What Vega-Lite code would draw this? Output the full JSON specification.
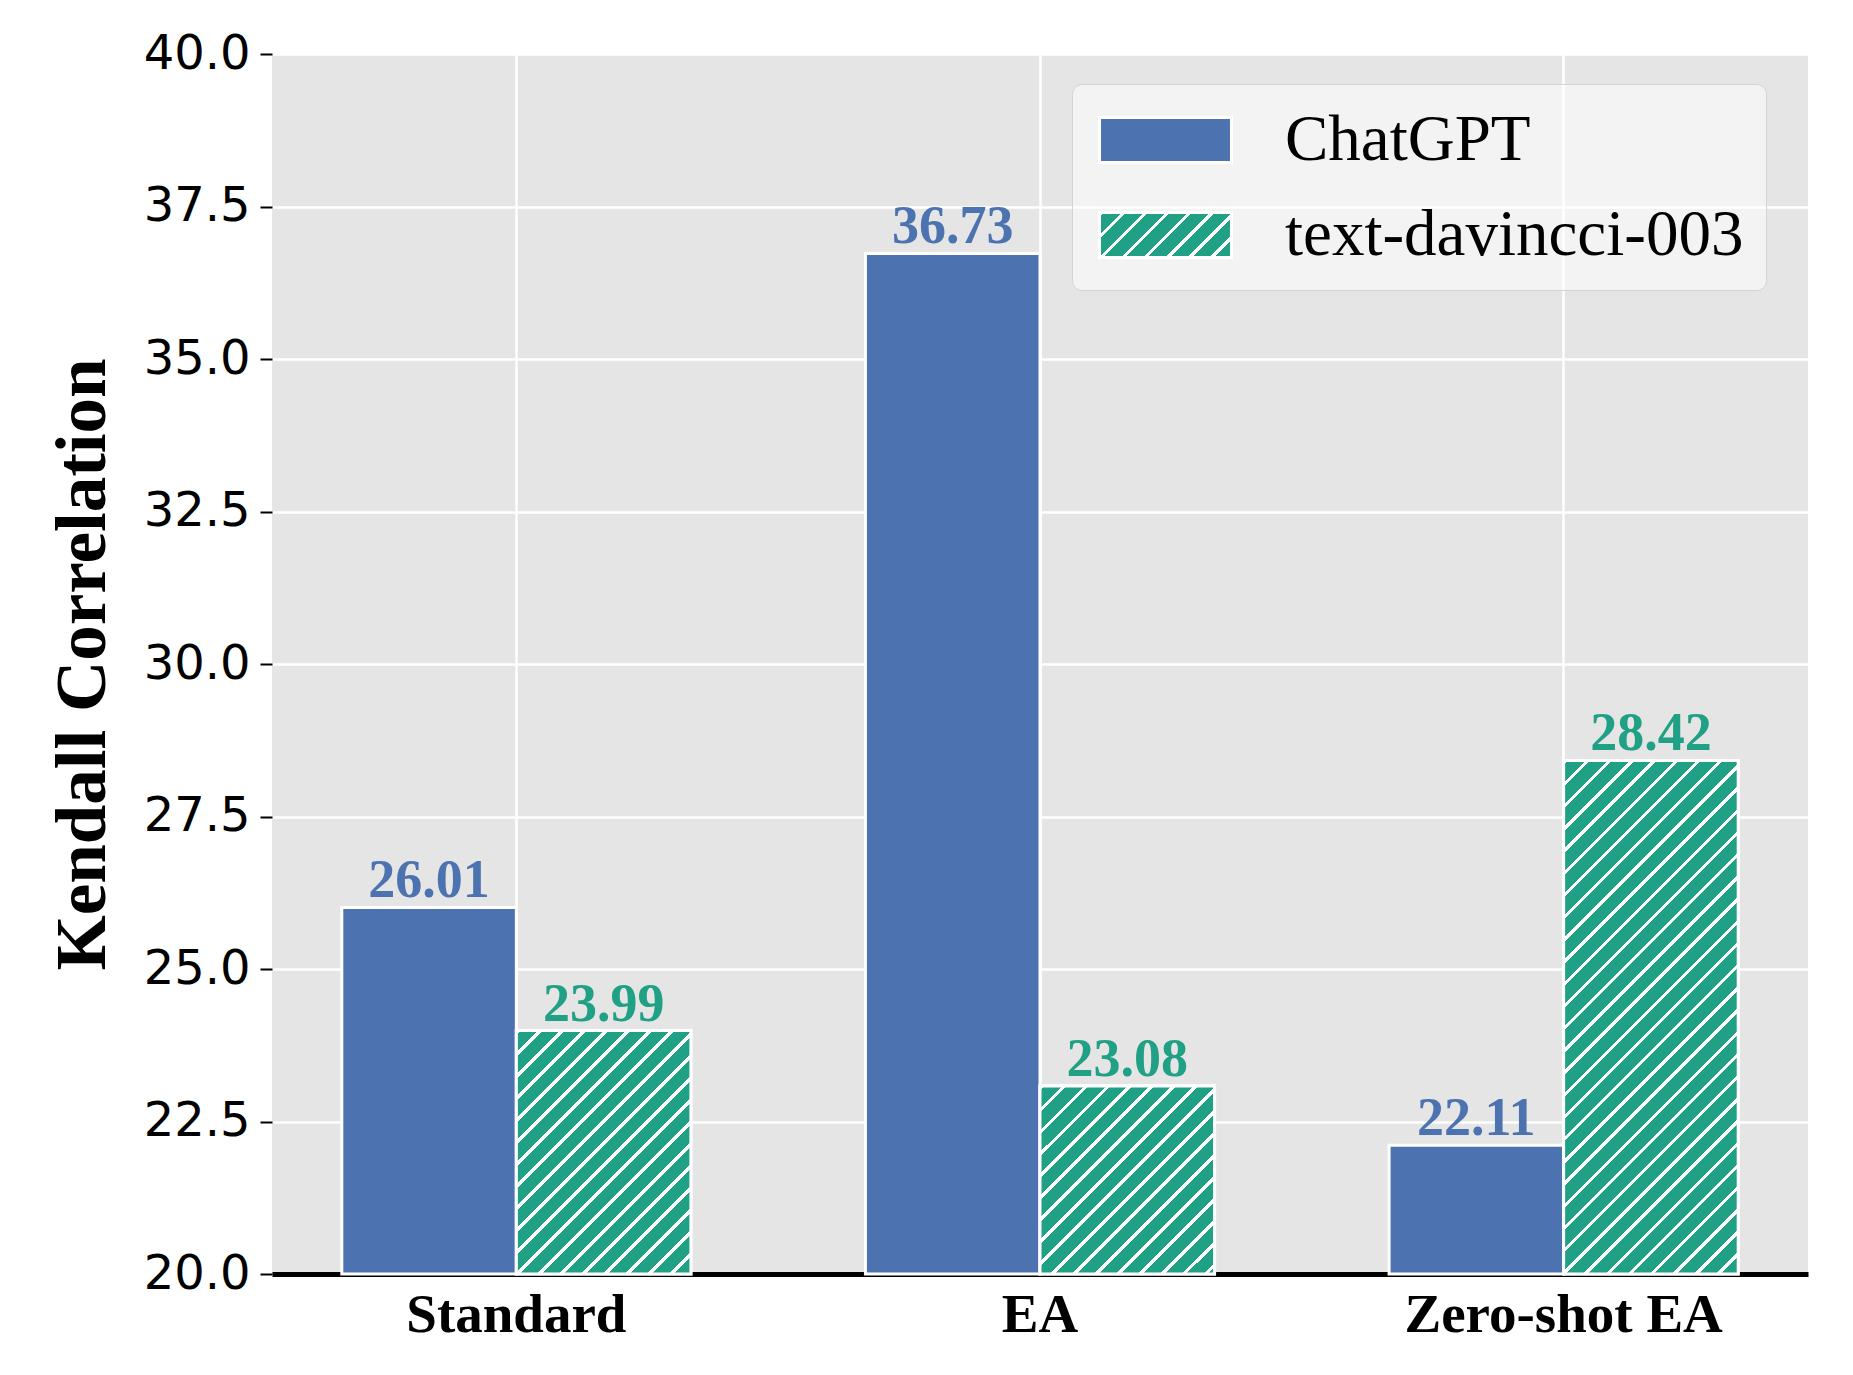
{
  "$schema": "https://vega.github.io/schema/vega-lite/v6.json",
  "width": 1536,
  "height": 1220,
  "autosize": {"type": "none"},
  "padding": {"left": 272, "top": 54, "right": 45, "bottom": 101},
  "background": "white",
  "config": {
    "view": {"fill": "#e5e5e5", "stroke": null},
    "axis": {"gridColor": "white", "gridWidth": 2.5, "gridOpacity": 1}
  },
  "data": {
    "values": [
      {"method": "Standard", "model": "ChatGPT", "value": 26.01},
      {"method": "Standard", "model": "text-davincci-003", "value": 23.99},
      {"method": "EA", "model": "ChatGPT", "value": 36.73},
      {"method": "EA", "model": "text-davincci-003", "value": 23.08},
      {"method": "Zero-shot EA", "model": "ChatGPT", "value": 22.11},
      {"method": "Zero-shot EA", "model": "text-davincci-003", "value": 28.42}
    ]
  },
  "encoding": {
    "x": {
      "field": "method", "type": "nominal",
      "sort": ["Standard", "EA", "Zero-shot EA"],
      "scale": {"paddingInner": 0.3333, "paddingOuter": 0.1333},
      "axis": {
        "title": null, "labelAngle": 0, "grid": true, "bandPosition": 0.5,
        "ticks": false, "tickSize": 0,
        "domain": true, "domainColor": "black", "domainWidth": 5,
        "labelFont": "Liberation Serif", "labelFontWeight": "bold", "labelFontSize": 55,
        "labelColor": "black", "labelBaseline": "alphabetic", "labelPadding": 57, "labelLimit": 1000
      }
    },
    "xOffset": {
      "field": "model", "type": "nominal",
      "scale": {"domain": ["ChatGPT", "text-davincci-003"], "paddingInner": 0, "paddingOuter": 0}
    },
    "y": {
      "field": "value", "type": "quantitative",
      "scale": {"domain": [20, 40], "zero": false, "nice": false},
      "axis": {
        "values": [20, 22.5, 25, 27.5, 30, 32.5, 35, 37.5, 40],
        "format": ".1f",
        "grid": true,
        "domain": false,
        "ticks": true, "tickSize": 12, "tickWidth": 2, "tickColor": "black",
        "labelFont": "DejaVu Sans", "labelFontSize": 48, "labelColor": "black", "labelPadding": 10,
        "title": "Kendall Correlation",
        "titleFont": "Liberation Serif", "titleFontWeight": "bold", "titleFontSize": 71, "titleColor": "black",
        "titleAngle": -90, "titleBaseline": "alphabetic", "titleAlign": "center",
        "titleX": -168, "titleY": 610
      }
    }
  },
  "layer": [
    {
      "mark": {"type": "bar", "stroke": "white", "strokeWidth": 3},
      "encoding": {
        "y2": {"datum": 20},
        "fill": {
          "field": "model", "type": "nominal",
          "scale": {"domain": ["ChatGPT", "text-davincci-003"], "range": ["#4c72b0", {"expr": "{gradient: 'linear', x1: 0, y1: 0, x2: 1.2013, y2: 0.4095, stops: [{offset: 0, color: 'white'}, {offset: 0.025, color: 'white'}, {offset: 0.025, color: '#20a084'}, {offset: 0.125, color: '#20a084'}, {offset: 0.125, color: 'white'}, {offset: 0.15, color: 'white'}, {offset: 0.15, color: '#20a084'}, {offset: 0.25, color: '#20a084'}, {offset: 0.25, color: 'white'}, {offset: 0.275, color: 'white'}, {offset: 0.275, color: '#20a084'}, {offset: 0.375, color: '#20a084'}, {offset: 0.375, color: 'white'}, {offset: 0.4, color: 'white'}, {offset: 0.4, color: '#20a084'}, {offset: 0.5, color: '#20a084'}, {offset: 0.5, color: 'white'}, {offset: 0.525, color: 'white'}, {offset: 0.525, color: '#20a084'}, {offset: 0.625, color: '#20a084'}, {offset: 0.625, color: 'white'}, {offset: 0.65, color: 'white'}, {offset: 0.65, color: '#20a084'}, {offset: 0.75, color: '#20a084'}, {offset: 0.75, color: 'white'}, {offset: 0.775, color: 'white'}, {offset: 0.775, color: '#20a084'}, {offset: 0.875, color: '#20a084'}, {offset: 0.875, color: 'white'}, {offset: 0.9, color: 'white'}, {offset: 0.9, color: '#20a084'}, {offset: 1, color: '#20a084'}]}"}]},
          "legend": {
            "orient": "none", "legendX": 800, "legendY": 30, "title": null,
            "symbolType": "M-2.03,-0.692H2.03V0.692H-2.03Z", "symbolSize": 4225,
            "symbolOffset": 37.5,
            "labelFont": "Liberation Serif", "labelFontSize": 65, "labelColor": "black",
            "labelOffset": 85.5, "labelLimit": 1000, "rowPadding": 28, "padding": 22,
            "fillColor": "rgba(255,255,255,0.55)", "strokeColor": "#d4d4d4", "cornerRadius": 10,
            "symbolStrokeColor": "white", "symbolStrokeWidth": 3, "symbolOpacity": 1,
            "encode": {"legend": {"strokeWidth": {"value": 2}}}
          }
        }
      }
    },
    {
      "transform": [{"filter": "datum.model === 'text-davincci-003' && datum.method === 'Standard'"}],
      "mark": {"type": "bar", "stroke": "white", "strokeWidth": 3,
        "fill": {"gradient": "linear", "x1": 0, "y1": 0, "x2": 0.813, "y2": 1.134,
          "stops": [
            {"offset": 0, "color": "white"}, {"offset": 0.0105, "color": "white"}, {"offset": 0.0105, "color": "#20a084"}, {"offset": 0.0526, "color": "#20a084"},
            {"offset": 0.0526, "color": "white"}, {"offset": 0.0632, "color": "white"}, {"offset": 0.0632, "color": "#20a084"}, {"offset": 0.1053, "color": "#20a084"},
            {"offset": 0.1053, "color": "white"}, {"offset": 0.1158, "color": "white"}, {"offset": 0.1158, "color": "#20a084"}, {"offset": 0.1579, "color": "#20a084"},
            {"offset": 0.1579, "color": "white"}, {"offset": 0.1684, "color": "white"}, {"offset": 0.1684, "color": "#20a084"}, {"offset": 0.2105, "color": "#20a084"},
            {"offset": 0.2105, "color": "white"}, {"offset": 0.2211, "color": "white"}, {"offset": 0.2211, "color": "#20a084"}, {"offset": 0.2632, "color": "#20a084"},
            {"offset": 0.2632, "color": "white"}, {"offset": 0.2737, "color": "white"}, {"offset": 0.2737, "color": "#20a084"}, {"offset": 0.3158, "color": "#20a084"},
            {"offset": 0.3158, "color": "white"}, {"offset": 0.3263, "color": "white"}, {"offset": 0.3263, "color": "#20a084"}, {"offset": 0.3684, "color": "#20a084"},
            {"offset": 0.3684, "color": "white"}, {"offset": 0.3789, "color": "white"}, {"offset": 0.3789, "color": "#20a084"}, {"offset": 0.4211, "color": "#20a084"},
            {"offset": 0.4211, "color": "white"}, {"offset": 0.4316, "color": "white"}, {"offset": 0.4316, "color": "#20a084"}, {"offset": 0.4737, "color": "#20a084"},
            {"offset": 0.4737, "color": "white"}, {"offset": 0.4842, "color": "white"}, {"offset": 0.4842, "color": "#20a084"}, {"offset": 0.5263, "color": "#20a084"},
            {"offset": 0.5263, "color": "white"}, {"offset": 0.5368, "color": "white"}, {"offset": 0.5368, "color": "#20a084"}, {"offset": 0.5789, "color": "#20a084"},
            {"offset": 0.5789, "color": "white"}, {"offset": 0.5895, "color": "white"}, {"offset": 0.5895, "color": "#20a084"}, {"offset": 0.6316, "color": "#20a084"},
            {"offset": 0.6316, "color": "white"}, {"offset": 0.6421, "color": "white"}, {"offset": 0.6421, "color": "#20a084"}, {"offset": 0.6842, "color": "#20a084"},
            {"offset": 0.6842, "color": "white"}, {"offset": 0.6947, "color": "white"}, {"offset": 0.6947, "color": "#20a084"}, {"offset": 0.7368, "color": "#20a084"},
            {"offset": 0.7368, "color": "white"}, {"offset": 0.7474, "color": "white"}, {"offset": 0.7474, "color": "#20a084"}, {"offset": 0.7895, "color": "#20a084"},
            {"offset": 0.7895, "color": "white"}, {"offset": 0.8, "color": "white"}, {"offset": 0.8, "color": "#20a084"}, {"offset": 0.8421, "color": "#20a084"},
            {"offset": 0.8421, "color": "white"}, {"offset": 0.8526, "color": "white"}, {"offset": 0.8526, "color": "#20a084"}, {"offset": 0.8947, "color": "#20a084"},
            {"offset": 0.8947, "color": "white"}, {"offset": 0.9053, "color": "white"}, {"offset": 0.9053, "color": "#20a084"}, {"offset": 0.9474, "color": "#20a084"},
            {"offset": 0.9474, "color": "white"}, {"offset": 0.9579, "color": "white"}, {"offset": 0.9579, "color": "#20a084"}, {"offset": 1, "color": "#20a084"}
          ]}},
      "encoding": {"y2": {"datum": 20}}
    },
    {
      "transform": [{"filter": "datum.model === 'text-davincci-003' && datum.method === 'EA'"}],
      "mark": {"type": "bar", "stroke": "white", "strokeWidth": 3,
        "fill": {"gradient": "linear", "x1": 0, "y1": 0, "x2": 0.9617, "y2": 1.0356,
          "stops": [
            {"offset": 0, "color": "white"}, {"offset": 0.0121, "color": "white"}, {"offset": 0.0121, "color": "#20a084"}, {"offset": 0.0606, "color": "#20a084"},
            {"offset": 0.0606, "color": "white"}, {"offset": 0.0727, "color": "white"}, {"offset": 0.0727, "color": "#20a084"}, {"offset": 0.1212, "color": "#20a084"},
            {"offset": 0.1212, "color": "white"}, {"offset": 0.1333, "color": "white"}, {"offset": 0.1333, "color": "#20a084"}, {"offset": 0.1818, "color": "#20a084"},
            {"offset": 0.1818, "color": "white"}, {"offset": 0.1939, "color": "white"}, {"offset": 0.1939, "color": "#20a084"}, {"offset": 0.2424, "color": "#20a084"},
            {"offset": 0.2424, "color": "white"}, {"offset": 0.2545, "color": "white"}, {"offset": 0.2545, "color": "#20a084"}, {"offset": 0.303, "color": "#20a084"},
            {"offset": 0.303, "color": "white"}, {"offset": 0.3152, "color": "white"}, {"offset": 0.3152, "color": "#20a084"}, {"offset": 0.3636, "color": "#20a084"},
            {"offset": 0.3636, "color": "white"}, {"offset": 0.3758, "color": "white"}, {"offset": 0.3758, "color": "#20a084"}, {"offset": 0.4242, "color": "#20a084"},
            {"offset": 0.4242, "color": "white"}, {"offset": 0.4364, "color": "white"}, {"offset": 0.4364, "color": "#20a084"}, {"offset": 0.4848, "color": "#20a084"},
            {"offset": 0.4848, "color": "white"}, {"offset": 0.497, "color": "white"}, {"offset": 0.497, "color": "#20a084"}, {"offset": 0.5455, "color": "#20a084"},
            {"offset": 0.5455, "color": "white"}, {"offset": 0.5576, "color": "white"}, {"offset": 0.5576, "color": "#20a084"}, {"offset": 0.6061, "color": "#20a084"},
            {"offset": 0.6061, "color": "white"}, {"offset": 0.6182, "color": "white"}, {"offset": 0.6182, "color": "#20a084"}, {"offset": 0.6667, "color": "#20a084"},
            {"offset": 0.6667, "color": "white"}, {"offset": 0.6788, "color": "white"}, {"offset": 0.6788, "color": "#20a084"}, {"offset": 0.7273, "color": "#20a084"},
            {"offset": 0.7273, "color": "white"}, {"offset": 0.7394, "color": "white"}, {"offset": 0.7394, "color": "#20a084"}, {"offset": 0.7879, "color": "#20a084"},
            {"offset": 0.7879, "color": "white"}, {"offset": 0.8, "color": "white"}, {"offset": 0.8, "color": "#20a084"}, {"offset": 0.8485, "color": "#20a084"},
            {"offset": 0.8485, "color": "white"}, {"offset": 0.8606, "color": "white"}, {"offset": 0.8606, "color": "#20a084"}, {"offset": 0.9091, "color": "#20a084"},
            {"offset": 0.9091, "color": "white"}, {"offset": 0.9212, "color": "white"}, {"offset": 0.9212, "color": "#20a084"}, {"offset": 0.9697, "color": "#20a084"},
            {"offset": 0.9697, "color": "white"}, {"offset": 0.9818, "color": "white"}, {"offset": 0.9818, "color": "#20a084"}, {"offset": 1, "color": "#20a084"}
          ]}},
      "encoding": {"y2": {"datum": 20}}
    },
    {
      "transform": [{"filter": "datum.model === 'text-davincci-003' && datum.method === 'Zero-shot EA'"}],
      "mark": {"type": "bar", "stroke": "white", "strokeWidth": 3,
        "fill": {"gradient": "linear", "x1": 0, "y1": 0, "x2": 0.4081, "y2": 1.2011,
          "stops": [
            {"offset": 0, "color": "white"}, {"offset": 0.0065, "color": "white"}, {"offset": 0.0065, "color": "#20a084"}, {"offset": 0.0323, "color": "#20a084"},
            {"offset": 0.0323, "color": "white"}, {"offset": 0.0387, "color": "white"}, {"offset": 0.0387, "color": "#20a084"}, {"offset": 0.0645, "color": "#20a084"},
            {"offset": 0.0645, "color": "white"}, {"offset": 0.071, "color": "white"}, {"offset": 0.071, "color": "#20a084"}, {"offset": 0.0968, "color": "#20a084"},
            {"offset": 0.0968, "color": "white"}, {"offset": 0.1032, "color": "white"}, {"offset": 0.1032, "color": "#20a084"}, {"offset": 0.129, "color": "#20a084"},
            {"offset": 0.129, "color": "white"}, {"offset": 0.1355, "color": "white"}, {"offset": 0.1355, "color": "#20a084"}, {"offset": 0.1613, "color": "#20a084"},
            {"offset": 0.1613, "color": "white"}, {"offset": 0.1677, "color": "white"}, {"offset": 0.1677, "color": "#20a084"}, {"offset": 0.1935, "color": "#20a084"},
            {"offset": 0.1935, "color": "white"}, {"offset": 0.2, "color": "white"}, {"offset": 0.2, "color": "#20a084"}, {"offset": 0.2258, "color": "#20a084"},
            {"offset": 0.2258, "color": "white"}, {"offset": 0.2323, "color": "white"}, {"offset": 0.2323, "color": "#20a084"}, {"offset": 0.2581, "color": "#20a084"},
            {"offset": 0.2581, "color": "white"}, {"offset": 0.2645, "color": "white"}, {"offset": 0.2645, "color": "#20a084"}, {"offset": 0.2903, "color": "#20a084"},
            {"offset": 0.2903, "color": "white"}, {"offset": 0.2968, "color": "white"}, {"offset": 0.2968, "color": "#20a084"}, {"offset": 0.3226, "color": "#20a084"},
            {"offset": 0.3226, "color": "white"}, {"offset": 0.329, "color": "white"}, {"offset": 0.329, "color": "#20a084"}, {"offset": 0.3548, "color": "#20a084"},
            {"offset": 0.3548, "color": "white"}, {"offset": 0.3613, "color": "white"}, {"offset": 0.3613, "color": "#20a084"}, {"offset": 0.3871, "color": "#20a084"},
            {"offset": 0.3871, "color": "white"}, {"offset": 0.3935, "color": "white"}, {"offset": 0.3935, "color": "#20a084"}, {"offset": 0.4194, "color": "#20a084"},
            {"offset": 0.4194, "color": "white"}, {"offset": 0.4258, "color": "white"}, {"offset": 0.4258, "color": "#20a084"}, {"offset": 0.4516, "color": "#20a084"},
            {"offset": 0.4516, "color": "white"}, {"offset": 0.4581, "color": "white"}, {"offset": 0.4581, "color": "#20a084"}, {"offset": 0.4839, "color": "#20a084"},
            {"offset": 0.4839, "color": "white"}, {"offset": 0.4903, "color": "white"}, {"offset": 0.4903, "color": "#20a084"}, {"offset": 0.5161, "color": "#20a084"},
            {"offset": 0.5161, "color": "white"}, {"offset": 0.5226, "color": "white"}, {"offset": 0.5226, "color": "#20a084"}, {"offset": 0.5484, "color": "#20a084"},
            {"offset": 0.5484, "color": "white"}, {"offset": 0.5548, "color": "white"}, {"offset": 0.5548, "color": "#20a084"}, {"offset": 0.5806, "color": "#20a084"},
            {"offset": 0.5806, "color": "white"}, {"offset": 0.5871, "color": "white"}, {"offset": 0.5871, "color": "#20a084"}, {"offset": 0.6129, "color": "#20a084"},
            {"offset": 0.6129, "color": "white"}, {"offset": 0.6194, "color": "white"}, {"offset": 0.6194, "color": "#20a084"}, {"offset": 0.6452, "color": "#20a084"},
            {"offset": 0.6452, "color": "white"}, {"offset": 0.6516, "color": "white"}, {"offset": 0.6516, "color": "#20a084"}, {"offset": 0.6774, "color": "#20a084"},
            {"offset": 0.6774, "color": "white"}, {"offset": 0.6839, "color": "white"}, {"offset": 0.6839, "color": "#20a084"}, {"offset": 0.7097, "color": "#20a084"},
            {"offset": 0.7097, "color": "white"}, {"offset": 0.7161, "color": "white"}, {"offset": 0.7161, "color": "#20a084"}, {"offset": 0.7419, "color": "#20a084"},
            {"offset": 0.7419, "color": "white"}, {"offset": 0.7484, "color": "white"}, {"offset": 0.7484, "color": "#20a084"}, {"offset": 0.7742, "color": "#20a084"},
            {"offset": 0.7742, "color": "white"}, {"offset": 0.7806, "color": "white"}, {"offset": 0.7806, "color": "#20a084"}, {"offset": 0.8065, "color": "#20a084"},
            {"offset": 0.8065, "color": "white"}, {"offset": 0.8129, "color": "white"}, {"offset": 0.8129, "color": "#20a084"}, {"offset": 0.8387, "color": "#20a084"},
            {"offset": 0.8387, "color": "white"}, {"offset": 0.8452, "color": "white"}, {"offset": 0.8452, "color": "#20a084"}, {"offset": 0.871, "color": "#20a084"},
            {"offset": 0.871, "color": "white"}, {"offset": 0.8774, "color": "white"}, {"offset": 0.8774, "color": "#20a084"}, {"offset": 0.9032, "color": "#20a084"},
            {"offset": 0.9032, "color": "white"}, {"offset": 0.9097, "color": "white"}, {"offset": 0.9097, "color": "#20a084"}, {"offset": 0.9355, "color": "#20a084"},
            {"offset": 0.9355, "color": "white"}, {"offset": 0.9419, "color": "white"}, {"offset": 0.9419, "color": "#20a084"}, {"offset": 0.9677, "color": "#20a084"},
            {"offset": 0.9677, "color": "white"}, {"offset": 0.9742, "color": "white"}, {"offset": 0.9742, "color": "#20a084"}, {"offset": 1, "color": "#20a084"}
          ]}},
      "encoding": {"y2": {"datum": 20}}
    },
    {
      "mark": {"type": "text", "font": "Liberation Serif", "fontWeight": "bold", "fontSize": 54, "baseline": "alphabetic", "dy": -10},
      "encoding": {
        "text": {"field": "value", "type": "quantitative", "format": ".2f"},
        "color": {"field": "model", "type": "nominal",
          "scale": {"domain": ["ChatGPT", "text-davincci-003"], "range": ["#4c72b0", "#20a084"]},
          "legend": null}
      }
    }
  ]
}
